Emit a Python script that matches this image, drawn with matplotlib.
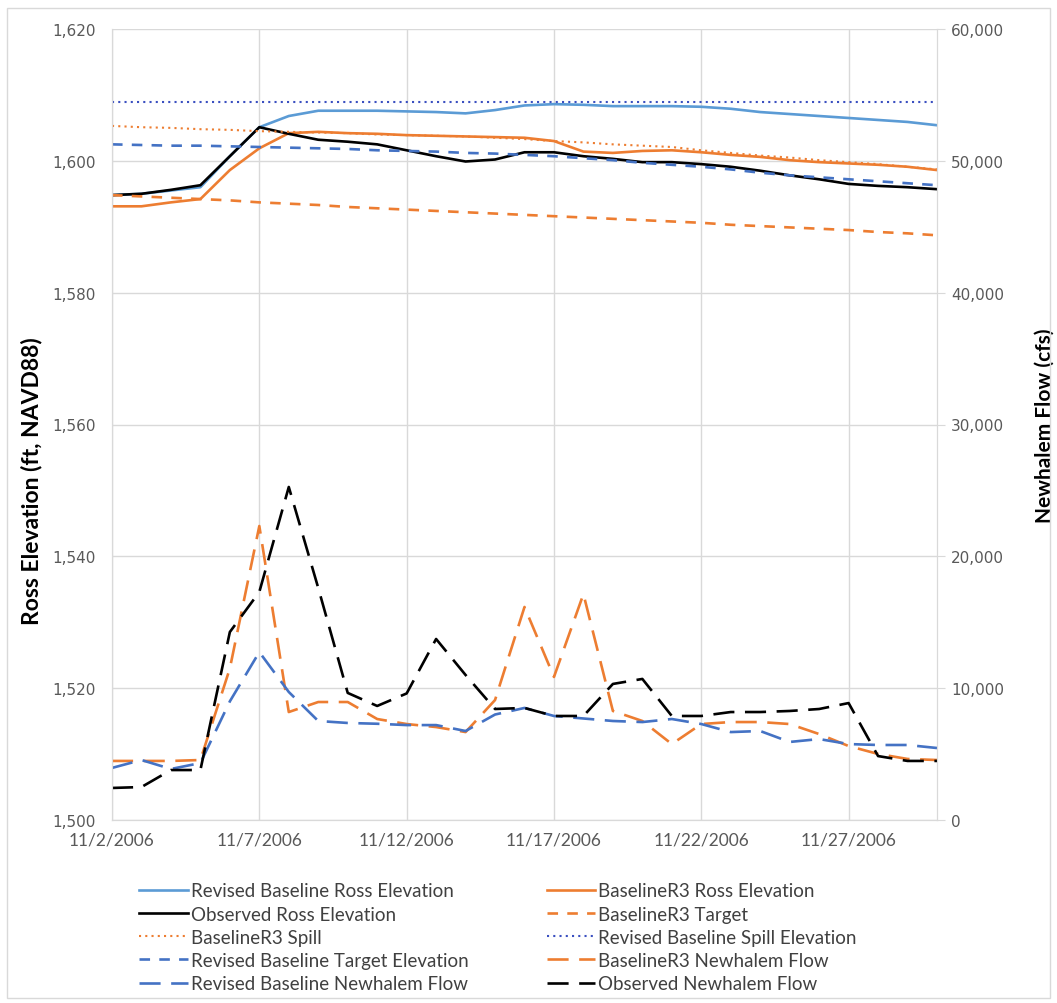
import pandas as pd
import matplotlib
matplotlib.use("Agg")
import matplotlib.pyplot as plt
from matplotlib.ticker import FuncFormatter, MultipleLocator
from matplotlib.patches import Rectangle

# daily values, 11/2/2006 .. 11/30/2006
dates = pd.date_range("2006-11-02", "2006-11-30", freq="D")

rev_ross = [1594.8, 1595.0, 1595.5, 1596.0, 1600.7, 1605.1, 1606.8, 1607.6, 1607.6, 1607.6,
            1607.5, 1607.4, 1607.2, 1607.7, 1608.4, 1608.6, 1608.5, 1608.3, 1608.3, 1608.3,
            1608.2, 1607.9, 1607.4, 1607.1, 1606.8, 1606.5, 1606.2, 1605.9, 1605.4]
r3_ross = [1593.1, 1593.1, 1593.7, 1594.2, 1598.6, 1601.9, 1604.2, 1604.4, 1604.2, 1604.1,
           1603.9, 1603.8, 1603.7, 1603.6, 1603.5, 1603.0, 1601.4, 1601.2, 1601.5, 1601.6,
           1601.3, 1600.9, 1600.6, 1600.1, 1599.8, 1599.6, 1599.4, 1599.1, 1598.6]
obs_ross = [1594.8, 1595.0, 1595.6, 1596.3, 1600.7, 1605.1, 1604.1, 1603.2, 1602.9, 1602.5,
            1601.6, 1600.7, 1599.9, 1600.2, 1601.3, 1601.3, 1600.7, 1600.3, 1599.8, 1599.8,
            1599.5, 1599.1, 1598.5, 1597.8, 1597.2, 1596.5, 1596.2, 1596.0, 1595.7]
r3_target = [1594.8, 1594.6, 1594.4, 1594.2, 1594.0, 1593.7, 1593.5, 1593.3, 1593.0, 1592.8,
             1592.6, 1592.4, 1592.2, 1592.0, 1591.8, 1591.6, 1591.4, 1591.2, 1591.0, 1590.8,
             1590.6, 1590.3, 1590.1, 1589.9, 1589.7, 1589.5, 1589.2, 1589.0, 1588.7]
r3_spill = [1605.3, 1605.1, 1605.0, 1604.8, 1604.7, 1604.5, 1604.4, 1604.3, 1604.2, 1604.0,
            1603.9, 1603.8, 1603.7, 1603.5, 1603.3, 1603.0, 1602.8, 1602.5, 1602.3, 1602.1,
            1601.6, 1601.2, 1600.8, 1600.5, 1600.1, 1599.8, 1599.5, 1599.1, 1598.7]
rev_spill = [1608.9] * 29
rev_target = [1602.5, 1602.4, 1602.3, 1602.3, 1602.2, 1602.1, 1602.0, 1601.9, 1601.8, 1601.6,
              1601.5, 1601.4, 1601.2, 1601.1, 1600.9, 1600.7, 1600.4, 1600.1, 1599.7, 1599.4,
              1599.1, 1598.7, 1598.2, 1597.8, 1597.5, 1597.2, 1596.9, 1596.6, 1596.3]

r3_flow = [4480, 4480, 4480, 4550, 11500, 22300, 8190, 8950, 8950, 7660,
           7280, 7050, 6670, 9100, 16160, 10850, 17140, 8270, 7510, 5760,
           7280, 7430, 7430, 7280, 6520, 5610, 5010, 4630, 4550]
rev_flow = [3950, 4550, 3870, 4320, 9000, 12740, 9710, 7510, 7360, 7300,
            7200, 7200, 6750, 8000, 8500, 7890, 7700, 7510, 7430, 7660,
            7280, 6670, 6750, 5920, 6140, 5760, 5690, 5690, 5460]
obs_flow = [2430, 2500, 3790, 3790, 14260, 17300, 25260, 17600, 9640, 8650,
            9600, 13730, 11000, 8420, 8500, 7890, 7890, 10320, 10700, 7890,
            7890, 8190, 8190, 8270, 8420, 8870, 4850, 4480, 4480]

BLUE = "#5B9BD5"
DBLUE = "#4472C4"
ORANGE = "#ED7D31"
GRID = "#D9D9D9"
TXT = "#595959"

fig = plt.figure(figsize=(10.57, 10.04), dpi=100)
ax = fig.add_axes([112 / 1057, 1 - 821 / 1004, (937 - 112) / 1057, (821 - 30) / 1004])
ax2 = ax.twinx()

lw = 1.9
h = []
h += ax.plot(dates, rev_ross, color=BLUE, lw=lw, label="Revised Baseline Ross Elevation")
h += ax.plot(dates, r3_ross, color=ORANGE, lw=lw, label="BaselineR3 Ross Elevation")
h += ax.plot(dates, obs_ross, color="black", lw=lw, label="Observed Ross Elevation")
h += ax.plot(dates, r3_target, color=ORANGE, lw=lw, ls=(0, (4, 3.5)), label="BaselineR3 Target")
h += ax.plot(dates, r3_spill, color=ORANGE, lw=1.5, ls=(0, (1, 2)), label="BaselineR3 Spill")
h += ax.plot(dates, rev_spill, color="#3A4FC0", lw=1.5, ls=(0, (1, 2)),
             label="Revised Baseline Spill Elevation")
h += ax.plot(dates, rev_target, color=DBLUE, lw=lw, ls=(0, (4, 3.5)),
             label="Revised Baseline Target Elevation")
h += ax2.plot(dates, r3_flow, color=ORANGE, lw=lw, ls=(0, (8, 4)), label="BaselineR3 Newhalem Flow")
h += ax2.plot(dates, rev_flow, color=DBLUE, lw=lw, ls=(0, (8, 4)),
              label="Revised Baseline Newhalem Flow")
h += ax2.plot(dates, obs_flow, color="black", lw=lw, ls=(0, (8, 4)), label="Observed Newhalem Flow")

ax.set_xlim(dates[0], dates[-1])
ax.set_ylim(1500, 1620)
ax.yaxis.set_major_locator(MultipleLocator(20))
ax.yaxis.set_major_formatter(FuncFormatter(lambda v, p: f"{v:,.0f}"))
ax2.set_ylim(0, 60000)
ax2.yaxis.set_major_locator(MultipleLocator(10000))
ax2.yaxis.set_major_formatter(FuncFormatter(lambda v, p: f"{v:,.0f}"))

ax.set_xticks(dates[::5])
ax.set_xticklabels([f"{d.month}/{d.day}/{d.year}" for d in dates[::5]],
                   fontfamily="Lato", fontsize=12.5, color=TXT)
ax.grid(True, color=GRID, lw=1)
ax.set_axisbelow(True)

for a in (ax, ax2):
    for s in a.spines.values():
        s.set_color(GRID)
    a.spines["top"].set_visible(False)
ax.tick_params(axis="x", length=0, pad=8)
ax.tick_params(axis="y", length=0, pad=12, labelsize=11, labelcolor=TXT)
ax2.tick_params(axis="y", length=6, color=GRID, pad=4, labelsize=11, labelcolor=TXT)

ax.set_ylabel("Ross Elevation (ft, NAVD88)", fontfamily="Lato", fontweight="bold",
              fontsize=16.5, color="black")
ax.yaxis.set_label_coords(-0.084, 0.43)
ax2.set_ylabel("Newhalem Flow (cfs)", fontfamily="Lato", fontweight="bold",
               fontsize=15, color="black", labelpad=22)

# Excel fills the legend row by row
order = [0, 2, 4, 6, 8, 1, 3, 5, 7, 9]
fig.legend([h[i] for i in order], [h[i].get_label() for i in order],
           loc="upper left", bbox_to_anchor=(130 / 1057, 1 - 874 / 1004), ncol=2,
           frameon=False, prop={"family": "Lato", "size": 13.5}, labelcolor="#404040",
           handlelength=2.6, handletextpad=0.15, columnspacing=4.15, labelspacing=0.33,
           borderpad=0)

fig.patches.append(Rectangle((7 / 1057, 5 / 1004), 1043 / 1057, 990 / 1004,
                             transform=fig.transFigure, fill=False, edgecolor=GRID, lw=1))

fig.savefig("out.png", dpi=100, facecolor="white")
